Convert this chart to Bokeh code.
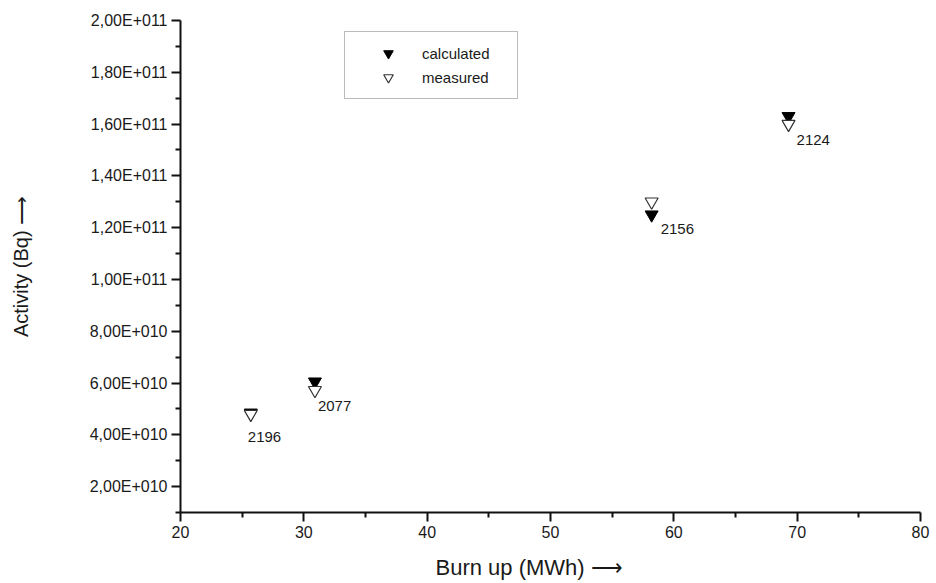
import math
from bokeh.plotting import figure
from bokeh.models import (ColumnDataSource, FixedTicker, Legend, LegendItem, Range1d)
from bokeh.embed import file_html
from bokeh.resources import INLINE

# ---- data ----
burn_up = [25.7, 30.9, 58.2, 69.3]
calculated = [4.85e10, 6.05e10, 1.25e11, 1.63e11]
measured = [4.80e10, 5.72e10, 1.30e11, 1.60e11]
sample_ids = ["2196", "2077", "2156", "2124"]

x_ticks = [20, 30, 40, 50, 60, 70, 80]
x_minor = [25, 35, 45, 55, 65, 75]
y_ticks = [2e10, 4e10, 6e10, 8e10, 1e11, 1.2e11, 1.4e11, 1.6e11, 1.8e11, 2e11]
y_tick_labels = ["2,00E+010", "4,00E+010", "6,00E+010", "8,00E+010", "1,00E+011",
                 "1,20E+011", "1,40E+011", "1,60E+011", "1,80E+011", "2,00E+011"]
y_minor = [1e10, 3e10, 5e10, 7e10, 9e10, 1.1e11, 1.3e11, 1.5e11, 1.7e11, 1.9e11]

# label placement offsets (pixels)
lab_dx = [-3, 3, 9, 8]
lab_dy = [23, 16, 14, 16]

FONT = "Liberation Sans"
TXT = "#1a1a1a"
NB = "\u00a0"

p = figure(width=936, height=583, output_backend="svg", toolbar_location=None,
           x_range=Range1d(20, 80), y_range=Range1d(1e10, 2e11),
           min_border_left=180, min_border_right=16, min_border_top=20,
           min_border_bottom=71)
p.outline_line_color = None
p.xgrid.visible = False
p.ygrid.visible = False
p.background_fill_color = "white"
p.border_fill_color = "white"

for ax in (p.xaxis[0], p.yaxis[0]):
    ax.axis_line_width = 2
    ax.axis_line_color = "#111111"
    ax.major_tick_line_width = 2
    ax.minor_tick_line_width = 2
    ax.major_tick_line_color = "#111111"
    ax.minor_tick_line_color = "#111111"
    ax.major_tick_out = 9
    ax.major_tick_in = 0
    ax.minor_tick_out = 5
    ax.minor_tick_in = 0
    ax.major_label_text_font = FONT
    ax.major_label_text_font_size = "16px"
    ax.major_label_text_color = TXT
    ax.major_label_standoff = 4
    ax.axis_label_text_font = FONT
    ax.axis_label_text_font_style = "normal"
    ax.axis_label_text_color = TXT

p.xaxis.axis_label = "Burn up (MWh) \u27f6" + NB * 7
p.xaxis.axis_label_text_font_size = "22px"
p.xaxis.axis_label_standoff = 14
p.yaxis.axis_label = "Activity (Bq) \u27f6"
p.yaxis.axis_label_text_font_size = "20px"
p.yaxis.axis_label_standoff = 55

p.xaxis.ticker = FixedTicker(ticks=x_ticks, minor_ticks=x_minor)
p.yaxis.ticker = FixedTicker(ticks=y_ticks, minor_ticks=y_minor)
p.yaxis.major_label_overrides = {t: l for t, l in zip(y_ticks, y_tick_labels)}

src = ColumnDataSource(dict(x=burn_up, calc=calculated, meas=measured, ids=sample_ids,
                            ly=[min(a, b) for a, b in zip(calculated, measured)],
                            dx=lab_dx, dy=lab_dy))

r_calc = p.scatter("x", "calc", source=src, marker="inverted_triangle", size=13,
                   fill_color="black", line_color="black", line_width=1)
r_meas = p.scatter("x", "meas", source=src, marker="inverted_triangle", size=13,
                   fill_color="white", line_color="#333333", line_width=1.2)

p.text("x", "ly", text="ids", source=src, x_offset="dx", y_offset="dy",
       text_font={"value": FONT}, text_font_size="15px", text_color=TXT,
       text_align="left", text_baseline="middle")

legend = Legend(items=[LegendItem(label="calculated", renderers=[r_calc]),
                       LegendItem(label="measured", renderers=[r_meas])],
                location=(164, 413), padding=9, spacing=0,
                glyph_width=68, glyph_height=24, label_height=23, label_width=86,
                label_standoff=0, label_text_font=FONT, label_text_font_size="15px",
                label_text_color=TXT, border_line_color="#777777", border_line_width=1,
                background_fill_color="white", background_fill_alpha=1, margin=0)
p.add_layout(legend, "center")

open("out.html", "w").write(file_html(p, INLINE))
